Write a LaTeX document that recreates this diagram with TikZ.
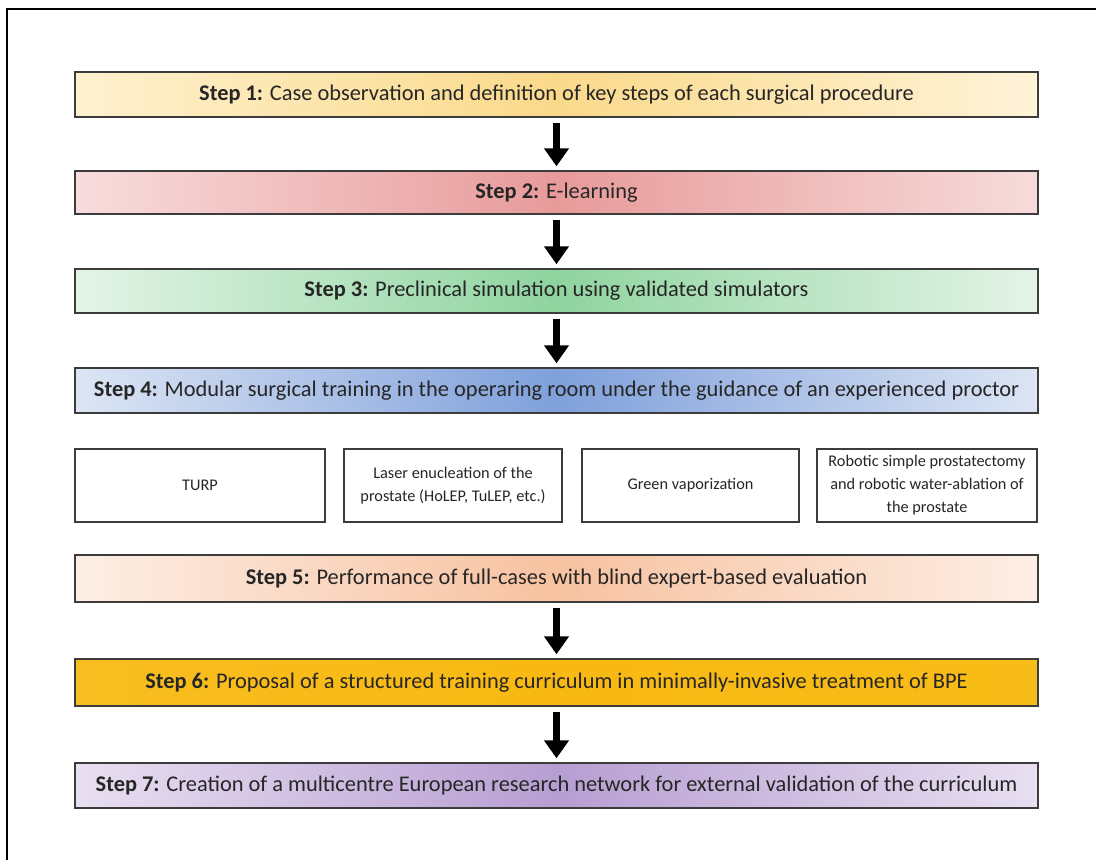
\documentclass[tikz,border=0pt]{standalone}
\usepackage{fontspec}
\setmainfont{Carlito}
\usetikzlibrary{arrows.meta}
\definecolor{txt}{HTML}{262626}
\definecolor{edge}{HTML}{3C3C3C}
\definecolor{aL}{HTML}{FEF1CF}\definecolor{aM}{HTML}{FAD98A}\definecolor{aR}{HTML}{FFF3D8}
\definecolor{bL}{HTML}{F8DCDD}\definecolor{bM}{HTML}{E89A9A}\definecolor{bR}{HTML}{F7DBDB}
\definecolor{cL}{HTML}{E4F4E7}\definecolor{cM}{HTML}{8FD49F}\definecolor{cR}{HTML}{E4F4E7}
\definecolor{dL}{HTML}{DCE5F4}\definecolor{dM}{HTML}{7FA0DB}\definecolor{dR}{HTML}{DCE5F4}
\definecolor{eL}{HTML}{FDEEE5}\definecolor{eM}{HTML}{F7C2A0}\definecolor{eR}{HTML}{FDEEE5}
\definecolor{fL}{HTML}{F8BD20}\definecolor{fM}{HTML}{F8B912}\definecolor{fR}{HTML}{F8BC18}
\definecolor{gL}{HTML}{E8DFF1}\definecolor{gM}{HTML}{B79ED2}\definecolor{gR}{HTML}{E8DFF1}
\tikzset{
  stepbox/.style={draw=edge, line width=1.4pt, minimum width=963pt, minimum height=45pt,
    inner sep=0pt, text=txt, font=\fontsize{22.4}{26}\selectfont},
  grad/.style={left color=#1L, right color=#1R, middle color=#1M},
  subbox/.style={draw=edge, line width=1.3pt, minimum height=73pt, inner sep=2pt,
    text=txt, align=center, font=\fontsize{16.3}{23}\selectfont},
  flow/.style={draw=black, line width=7pt, -{Triangle[width=24pt,length=18pt]},
    shorten <=5pt, shorten >=4pt},
}
\begin{document}
\begin{tikzpicture}[x=1pt,y=-1pt]
\useasboundingbox (0,0) rectangle (1096,860);
\fill[white] (0,0) rectangle (1096,860);
\draw[line width=2pt, black] (7,861) -- (7,9) -- (1097,9);

\node[stepbox, grad=a] (s1) at (556.5,94.5)
  {\textbf{Step 1:} Case observation and definition of key steps of each surgical procedure};
\node[stepbox, minimum height=43pt, grad=b] (s2) at (556.5,192.5)
  {\textbf{Step 2:} E-learning};
\node[stepbox, minimum height=44pt, grad=c] (s3) at (556.5,291)
  {\textbf{Step 3:} Preclinical simulation using validated simulators};
\node[stepbox, minimum height=45pt, grad=d] (s4) at (556.5,390.5)
  {\textbf{Step 4:} Modular surgical training in the operaring room under the guidance of an experienced proctor};

\node[subbox, minimum width=250pt] (t1) at (200,485.5) {TURP};
\node[subbox, minimum width=218pt] (t2) at (453,485.5) {Laser enucleation of the\\prostate (HoLEP, TuLEP, etc.)};
\node[subbox, minimum width=217pt] (t3) at (690.5,485.5) {Green vaporization};
\node[subbox, minimum width=220pt] (t4) at (927,485.5) {Robotic simple prostatectomy\\and robotic water-ablation of\\the prostate};

\node[stepbox, minimum height=47pt, grad=e] (s5) at (556.5,578.5)
  {\textbf{Step 5:} Performance of full-cases with blind expert-based evaluation};
\node[stepbox, minimum height=47pt, grad=f] (s6) at (556.5,682.5)
  {\textbf{Step 6:} Proposal of a structured training curriculum in minimally-invasive treatment of BPE};
\node[stepbox, minimum height=45pt, grad=g] (s7) at (556.5,785.5)
  {\textbf{Step 7:} Creation of a multicentre European research network for external validation of the curriculum};

\draw[flow] (s1) -- (s2);
\draw[flow] (s2) -- (s3);
\draw[flow] (s3) -- (s4);
\draw[flow] (s5) -- (s6);
\draw[flow] (s6) -- (s7);
\end{tikzpicture}
\end{document}
